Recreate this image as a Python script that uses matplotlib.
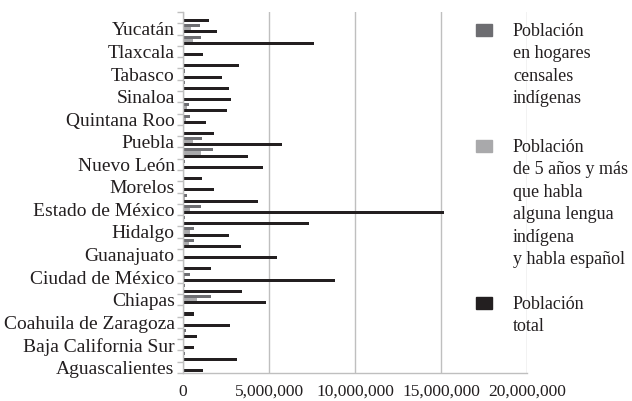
import numpy as np
import matplotlib
matplotlib.use("Agg")
import matplotlib.pyplot as plt
import matplotlib.ticker as mtick
from matplotlib.patches import Rectangle

plt.rcParams['font.family'] = ['Liberation Serif', 'DejaVu Serif']

estados = ['Aguascalientes', 'Baja California', 'Baja California Sur', 'Campeche',
           'Coahuila de Zaragoza', 'Colima', 'Chiapas', 'Chihuahua',
           'Ciudad de México', 'Durango', 'Guanajuato', 'Guerrero',
           'Hidalgo', 'Jalisco', 'Estado de México', 'Michoacán',
           'Morelos', 'Nayarit', 'Nuevo León', 'Oaxaca',
           'Puebla', 'Querétaro', 'Quintana Roo', 'San Luis Potosí',
           'Sinaloa', 'Sonora', 'Tabasco', 'Tamaulipas',
           'Tlaxcala', 'Veracruz', 'Yucatán', 'Zacatecas']

hogares_indigenas = [12000, 105000, 25000, 180000,
                     15000, 12000, 1600000, 140000,
                     380000, 45000, 30000, 640000,
                     650000, 105000, 1020000, 215000,
                     70000, 75000, 125000, 1720000,
                     1080000, 60000, 410000, 360000,
                     70000, 135000, 125000, 55000,
                     75000, 1020000, 970000, 8000]

habla_espanol = [3000, 45000, 11000, 88000,
                 6000, 4000, 830000, 80000,
                 120000, 26000, 14000, 340000,
                 400000, 48000, 430000, 115000,
                 30000, 42000, 45000, 1020000,
                 580000, 26000, 190000, 230000,
                 23000, 55000, 57000, 22000,
                 26000, 600000, 480000, 4000]

poblacion_total = [1184996, 3155070, 637026, 822441,
                   2748391, 650555, 4796580, 3406465,
                   8851080, 1632934, 5486372, 3388768,
                   2665018, 7350682, 15175862, 4351037,
                   1777227, 1084979, 4653458, 3801962,
                   5779829, 1827937, 1325578, 2585518,
                   2767761, 2662480, 2238603, 3268554,
                   1169936, 7643194, 1955577, 1490668]

c_hogares = '#6d6d71'
c_habla = '#a9a9ab'
c_total = '#231f20'
c_axis = '#bfbfbf'

fig = plt.figure(figsize=(6.32, 4.01), dpi=100)
ax = fig.add_axes([183/632, 1 - 373/401, (527 - 183)/632, (373 - 12)/401])

y = np.arange(len(estados))
h = 0.27
ax.barh(y - h, poblacion_total, height=h, color=c_total)
ax.barh(y, habla_espanol, height=h, color=c_habla)
ax.barh(y + h, hogares_indigenas, height=h, color=c_hogares)

ax.set_xlim(0, 20000000)
ax.set_ylim(-0.5, len(estados) - 0.5)
ax.xaxis.set_major_locator(mtick.MultipleLocator(5000000))
ax.xaxis.set_major_formatter(mtick.StrMethodFormatter('{x:,.0f}'))
ax.grid(axis='x', color=c_axis, linewidth=1)
ax.set_axisbelow(True)

# labels only on every other state, ticks between categories
ax.set_yticks(y[::2])
ax.set_yticklabels(estados[::2], fontsize=14, color='#231f20')
ax.set_yticks(np.arange(-0.5, len(estados)), minor=True)
ax.tick_params(axis='y', which='major', length=0, pad=6)
ax.tick_params(axis='y', which='minor', length=4, color=c_axis, width=1)
ax.tick_params(axis='x', length=0, pad=8, labelsize=12.5, labelcolor='#231f20')

for s in ['top', 'right']:
    ax.spines[s].set_visible(False)
for s in ['left', 'bottom']:
    ax.spines[s].set_color(c_axis)
    ax.spines[s].set_linewidth(1)

# legend drawn by hand so the box sits on the first line of each entry
legend = [
    (c_hogares, 'Población\nen hogares\ncensales\nindígenas', 30),
    (c_habla, 'Población\nde 5 años y más\nque habla\nalguna lengua\nindígena\ny habla español', 146),
    (c_total, 'Población\ntotal', 303),
]
for color, label, ypx in legend:
    fig.patches.append(Rectangle((476/632, 1 - (ypx + 6)/401), 16/632, 12/401,
                                 transform=fig.transFigure, color=color))
    fig.text(513/632, 1 - (ypx - 7)/401, label, fontsize=13, color='#231f20',
             va='top', ha='left', linespacing=1.42)

fig.savefig('out.png', dpi=100)
